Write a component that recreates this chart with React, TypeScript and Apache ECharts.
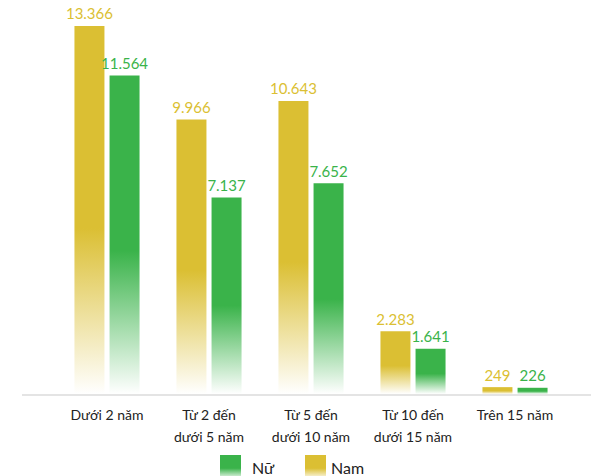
import React, { useEffect, useRef } from "react";
import * as echarts from "echarts";

const categories = [
  "Dưới 2 năm",
  "Từ 2 đến\ndưới 5 năm",
  "Từ 5 đến\ndưới 10 năm",
  "Từ 10 đến\ndưới 15 năm",
  "Trên 15 năm",
];
const namValues = [13366, 9966, 10643, 2283, 249];
const nuValues = [11564, 7137, 7652, 1641, 226];

const YELLOW = "#dbbf33";
const GREEN = "#3ab34a";
const FONT = "Lato, 'Noto Sans', sans-serif";

function fmt(v: number): string {
  return String(v).replace(/\B(?=(\d{3})+(?!\d))/g, ".");
}

function fade(color: string, rgb: string) {
  return new echarts.graphic.LinearGradient(0, 0, 0, 1, [
    { offset: 0, color },
    { offset: 0.55, color },
    { offset: 1, color: `rgba(${rgb},0)` },
  ]);
}

export default function App() {
  const ref = useRef<HTMLDivElement>(null);
  useEffect(() => {
    if (!ref.current) return;
    const chart = echarts.init(ref.current, null, { renderer: "svg" });
    const legendText = { fontSize: 16, color: "#222", fontFamily: FONT };
    chart.setOption({
      animation: false,
      backgroundColor: "#ffffff",
      grid: { left: 56, right: 25, top: 8.5, bottom: 82 },
      legend: [
        {
          data: ["Nữ"],
          left: 220,
          top: 455,
          padding: 0,
          icon: "rect",
          itemWidth: 21,
          itemHeight: 24,
          selectedMode: false,
          textStyle: { ...legendText, padding: [0, 0, 0, 6] },
        },
        {
          data: ["Nam"],
          left: 305,
          top: 455,
          padding: 0,
          icon: "rect",
          itemWidth: 21,
          itemHeight: 24,
          selectedMode: false,
          textStyle: legendText,
        },
      ],
      xAxis: {
        type: "category",
        data: categories,
        axisLine: { show: false },
        axisTick: { show: false },
        axisLabel: {
          color: "#222",
          fontSize: 14,
          lineHeight: 22,
          margin: 9,
          fontFamily: FONT,
          interval: 0,
        },
      },
      yAxis: {
        type: "value",
        min: 0,
        max: 14000,
        show: false,
        splitLine: { show: false },
      },
      graphic: [
        {
          type: "line",
          shape: { x1: 22, y1: 395, x2: 591, y2: 395 },
          style: { stroke: "#e4e4e4", lineWidth: 2 },
          z: 0,
        },
      ],
      series: [
        {
          name: "Nam",
          type: "bar",
          data: namValues,
          barWidth: 30,
          barGap: "17%",
          itemStyle: { color: fade(YELLOW, "219,191,51") },
          label: {
            show: true,
            position: "top",
            distance: 5,
            color: YELLOW,
            fontSize: 15,
            fontFamily: FONT,
            formatter: (p: any) => fmt(p.value),
          },
        },
        {
          name: "Nữ",
          type: "bar",
          data: nuValues,
          barWidth: 30,
          itemStyle: { color: fade(GREEN, "58,179,74") },
          label: {
            show: true,
            position: "top",
            distance: 5,
            color: GREEN,
            fontSize: 15,
            fontFamily: FONT,
            formatter: (p: any) => fmt(p.value),
          },
        },
      ],
    });
    return () => chart.dispose();
  }, []);
  return (
    <div
      ref={ref}
      style={{ position: "fixed", top: 0, left: 0, width: 591, height: 476, background: "#fff" }}
    />
  );
}
